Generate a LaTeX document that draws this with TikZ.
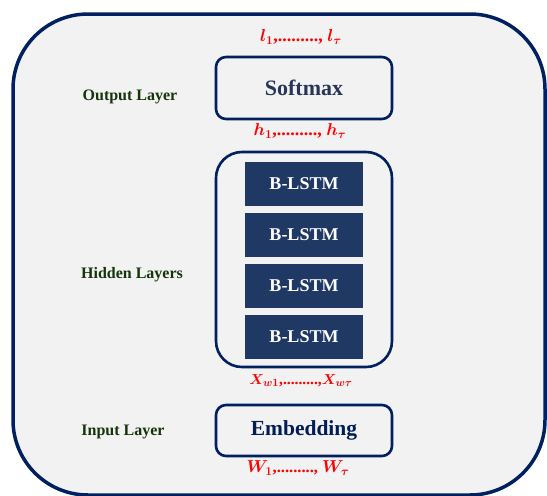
\documentclass[tikz,border=0pt]{standalone}
\usepackage{fontspec}
\setmainfont{Liberation Serif}
\usepackage{amsmath}
\usepackage{bm}
\usetikzlibrary{positioning}
\definecolor{navyline}{RGB}{0,32,96}
\definecolor{panelbg}{RGB}{242,242,242}
\definecolor{lstmfill}{RGB}{32,56,100}
\definecolor{boxtext}{RGB}{40,52,88}
\definecolor{layergreen}{RGB}{22,52,12}
\tikzset{
  panel/.style={draw=navyline, fill=panelbg, line width=3.5pt, rounded corners=75pt},
  layerbox/.style={rectangle, draw=navyline, line width=2.6pt, minimum width=176pt,
    align=center, rounded corners=10pt, font=\bfseries, text=boxtext},
  lstm/.style={rectangle, fill=lstmfill, minimum width=118pt, minimum height=44pt,
    text=white, font=\fontsize{18}{21}\selectfont\bfseries},
  layername/.style={text=layergreen, font=\fontsize{16}{19}\selectfont\bfseries},
  seqlabel/.style={text=red, font=\fontsize{18}{21}\selectfont\bfseries\boldmath},
}
\begin{document}
\begin{tikzpicture}[x=1pt, y=-1pt, node distance=6.5pt]
  \useasboundingbox[fill=white] (0,0) rectangle (547,496);
  \draw[panel] (13,14) rectangle (545,495);
  % main blocks
  \node[layerbox, minimum height=62pt, font=\fontsize{22}{25}\selectfont\bfseries] (softmax) at (304,88) {Softmax};
  \node[layerbox, minimum height=215pt, rounded corners=26pt] (hidden) at (304,259.5) {};
  \node[layerbox, minimum height=51pt, text=navyline!90!black, font=\fontsize{21.5}{25}\selectfont\bfseries] (embed) at (304,430.5) {Embedding};
  % stacked B-LSTM cells
  \node[lstm] (lstm1) at (304,184) {B-LSTM};
  \node[lstm, below=of lstm1] (lstm2) {B-LSTM};
  \node[lstm, below=of lstm2] (lstm3) {B-LSTM};
  \node[lstm, below=of lstm3] (lstm4) {B-LSTM};
  % sequence labels
  \node[seqlabel] (lseq) at (301,37) {$l_1$,.........,~$l_\tau$};
  \node[seqlabel] (hseq) at (300,131) {$h_1$,.........,~$h_\tau$};
  \node[seqlabel, font=\fontsize{15.5}{18}\selectfont\bfseries\boldmath] (xseq) at (301,381) {$X_{w1}$,.........,$X_{w\tau}$};
  \node[seqlabel, font=\fontsize{16.5}{19}\selectfont\bfseries\boldmath] (wseq) at (298,468) {$W_1$,.........,~$W_\tau$};
  % layer names
  \node[layername] (outname) at (130,97) {Output Layer};
  \node[layername] (hidname) at (132,275) {Hidden Layers};
  \node[layername] (inname) at (123,432) {Input Layer};
\end{tikzpicture}
\end{document}
